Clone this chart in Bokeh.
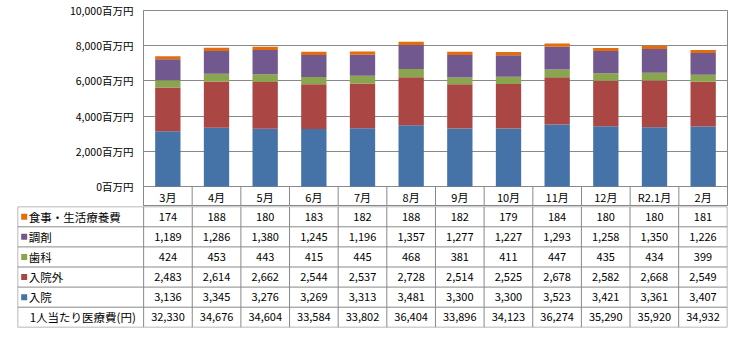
from bokeh.plotting import figure
from bokeh.models import Range1d, FixedTicker, ColumnDataSource
from bokeh.core.properties import value
from bokeh.embed import file_html
from bokeh.resources import INLINE

months = ["3月", "4月", "5月", "6月", "7月", "8月", "9月", "10月", "11月", "12月", "R2.1月", "2月"]
nyuin = [3136, 3345, 3276, 3269, 3313, 3481, 3300, 3300, 3523, 3421, 3361, 3407]
nyuingai = [2483, 2614, 2662, 2544, 2537, 2728, 2514, 2525, 2678, 2582, 2668, 2549]
shika = [424, 453, 443, 415, 445, 468, 381, 411, 447, 435, 434, 399]
chozai = [1189, 1286, 1380, 1245, 1196, 1357, 1277, 1227, 1293, 1258, 1350, 1226]
shokuji = [174, 188, 180, 183, 182, 188, 182, 179, 184, 180, 180, 181]
per_person = [32330, 34676, 34604, 33584, 33802, 36404, 33896, 34123, 36274, 35290, 35920, 34932]

series_names = ["入院", "入院外", "歯科", "調剤", "食事・生活療養費"]
series_colors = ["#4572A7", "#AA4643", "#89A54E", "#71588F", "#E46C0A"]
per_person_label = "1人当たり医療費(円)"

y_ticks = [0, 2000, 4000, 6000, 8000, 10000]
y_tick_labels = ["0百万円", "2,000百万円", "4,000百万円", "6,000百万円", "8,000百万円", "10,000百万円"]

FONT = "Noto Sans CJK JP"
GRAY = "#898989"

W = 734
LEFT_FRAME = 143
RIGHT_BORDER = 7
TABLE_LEFT = 17
TOP = 10
PLOT_H = 176      # pixel height of the 0..10000 area
HEADER_H = 20     # pixel height of the month header row
n = len(months)
centers = [i + 0.5 for i in range(n)]
bounds = list(range(n + 1))
ymax = y_ticks[-1]
hdr = ymax * HEADER_H / PLOT_H   # header row height in data units

# ---------- chart (plus month header row) ----------
data = {"x": centers, "month": months}
for name, vals in zip(series_names, [nyuin, nyuingai, shika, chozai, shokuji]):
    data[name] = vals
src = ColumnDataSource(data)

p = figure(width=W, height=TOP + PLOT_H + HEADER_H, x_range=Range1d(0, n),
           y_range=Range1d(-hdr, ymax),
           output_backend="svg", toolbar_location=None,
           min_border_left=LEFT_FRAME, min_border_right=RIGHT_BORDER,
           min_border_top=TOP, min_border_bottom=0)
p.vbar_stack(series_names, x="x", width=0.52, source=src,
             color=series_colors, line_color=None)
p.xaxis.visible = False
p.xgrid.visible = False
p.ygrid.grid_line_color = GRAY
p.ygrid.grid_line_width = 1
p.yaxis.ticker = FixedTicker(ticks=y_ticks)
p.yaxis.major_label_overrides = {t: l for t, l in zip(y_ticks, y_tick_labels)}
p.yaxis.major_tick_in = 0
p.yaxis.major_tick_out = 0
p.yaxis.minor_tick_in = 0
p.yaxis.minor_tick_out = 0
p.yaxis.major_label_standoff = 10
p.yaxis.axis_line_color = GRAY
p.yaxis.major_label_text_font = FONT
p.yaxis.major_label_text_font_size = "10.5px"
p.yaxis.major_label_text_color = "#000000"
p.outline_line_color = GRAY
p.outline_line_width = 1
p.background_fill_color = "white"
p.border_fill_color = "white"

# header row: separators and month names
p.segment(x0=bounds, y0=[-hdr] * len(bounds), x1=bounds, y1=[0] * len(bounds),
          line_color=GRAY, line_width=1)
p.text(x=centers, y=[-hdr / 2] * n, text=months, text_align="center", text_baseline="middle",
       text_font=value(FONT), text_font_size="11px", text_color="#000000")

# ---------- table ----------
colw = (W - RIGHT_BORDER - LEFT_FRAME) / n
L = (LEFT_FRAME - TABLE_LEFT) / colw
eps = 0.004
nrows = 6  # 5 series + per-person
t = figure(width=W, height=341 - (TOP + PLOT_H + HEADER_H), x_range=Range1d(-L - eps, n + eps),
           y_range=Range1d(-0.01, nrows + 0.01),
           output_backend="svg", toolbar_location=None,
           min_border_left=TABLE_LEFT, min_border_right=RIGHT_BORDER,
           min_border_top=0, min_border_bottom=14)
t.axis.visible = False
t.grid.visible = False
t.outline_line_color = None
t.background_fill_color = "white"
t.border_fill_color = "white"

hy = list(range(nrows + 1))
t.segment(x0=[-L] * len(hy), y0=hy, x1=[n] * len(hy), y1=hy, line_color=GRAY, line_width=1)
vx = [-L] + bounds
t.segment(x0=vx, y0=[0] * len(vx), x1=vx, y1=[nrows] * len(vx), line_color=GRAY, line_width=1)

rows_top_down = list(zip(series_names, series_colors, [nyuin, nyuingai, shika, chozai, shokuji]))[::-1]
for i, (name, col, vals) in enumerate(rows_top_down):
    yc = nrows - 0.5 - i
    t.text(x=centers, y=[yc] * n, text=[f"{v:,}" for v in vals], text_align="center",
           text_baseline="middle", text_font=value(FONT), text_font_size="11px",
           text_color="#000000")
    t.rect(x=[-L + 6.5 / colw], y=[yc], width=6, height=6, width_units="screen",
           height_units="screen", fill_color=col, line_color=None)
    t.text(x=[-L], y=[yc], text=[name], x_offset=11, text_align="left", text_baseline="middle",
           text_font=value(FONT), text_font_size="11.5px", text_color="#000000")

yc = 0.5
t.text(x=centers, y=[yc] * n, text=[f"{v:,}" for v in per_person], text_align="center",
       text_baseline="middle", text_font=value(FONT), text_font_size="11px", text_color="#000000")
t.text(x=[-L], y=[yc], text=[per_person_label], x_offset=12, text_align="left",
       text_baseline="middle", text_font=value(FONT), text_font_size="11.5px", text_color="#000000")

html = file_html([p, t], INLINE)
html = html.replace("<head>", "<head><style>html,body{margin:0;padding:0;} body>div{display:block!important;}</style>", 1)
open("out.html", "w").write(html)
